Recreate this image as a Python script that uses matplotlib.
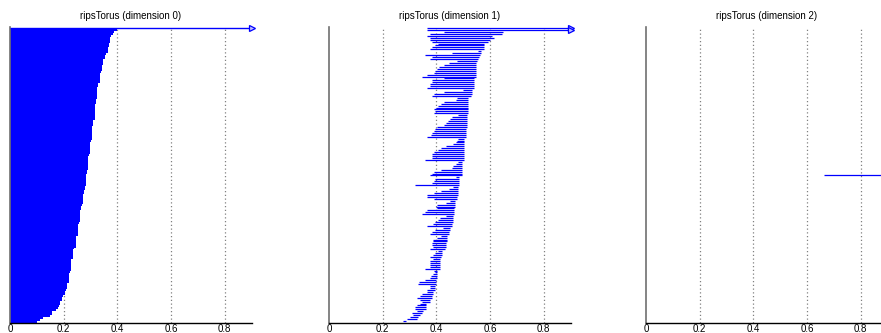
import numpy as np
import matplotlib
matplotlib.use("Agg")
import matplotlib.pyplot as plt

inf = np.inf

titles = ["ripsTorus (dimension 0)", "ripsTorus (dimension 1)", "ripsTorus (dimension 2)"]
xticks = [0, 0.2, 0.4, 0.6, 0.8]
xtick_labels = ["0", "0.2", "0.4", "0.6", "0.8"]

# dimension 0: all births at 0, deaths listed top to bottom
dim0_death = [
    inf,
    0.400,
    0.386, 0.384,
    0.376, 0.374, 0.372, 0.371,
    0.368, 0.367, 0.366, 0.365, 0.364,
    0.357, 0.355, 0.354,
    0.347, 0.346, 0.345, 0.344, 0.343, 0.342,
    0.338, 0.337, 0.336, 0.335, 0.335, 0.334,
    0.327, 0.326, 0.325, 0.325, 0.324, 0.324, 0.323, 0.323, 0.322,
    0.319, 0.319, 0.318, 0.318, 0.317, 0.317, 0.316, 0.316, 0.315, 0.315,
    0.309, 0.309, 0.308, 0.307, 0.307, 0.306, 0.306, 0.305, 0.305, 0.304,
    0.300, 0.299, 0.299, 0.298, 0.298, 0.297, 0.297, 0.296,
    0.292, 0.291, 0.291, 0.290, 0.290, 0.289, 0.289, 0.288,
    0.285, 0.284, 0.284, 0.283, 0.283, 0.282, 0.282, 0.281, 0.281,
    0.275, 0.274, 0.273, 0.272, 0.272, 0.271, 0.271, 0.270,
    0.263, 0.263, 0.262, 0.261, 0.261, 0.260, 0.260, 0.259,
    0.256, 0.255, 0.255, 0.254, 0.254, 0.253, 0.253,
    0.247, 0.246, 0.245, 0.245, 0.244, 0.244,
    0.237, 0.236, 0.235, 0.235, 0.234, 0.234,
    0.229, 0.228, 0.227, 0.227, 0.226, 0.226,
    0.222, 0.221, 0.220, 0.220, 0.219, 0.219,
    0.213, 0.212, 0.211, 0.210,
    0.206, 0.204,
    0.197, 0.195, 0.194,
    0.187, 0.185,
    0.181, 0.179,
    0.170,
    0.158, 0.156,
    0.149,
    0.124,
    0.112,
    0.100,
]
dim0_birth = [0.0] * len(dim0_death)

# dimension 1: intervals listed top to bottom
dim1_birth = [
    0.365, 0.365, 0.428, 0.376, 0.365, 0.376, 0.376, 0.385, 0.407, 0.395,
    0.383, 0.376, 0.556, 0.457, 0.357, 0.383, 0.376, 0.475, 0.447, 0.428,
    0.411, 0.401, 0.395, 0.391, 0.365, 0.345, 0.428, 0.383, 0.383, 0.376,
    0.376, 0.365, 0.500, 0.428, 0.392, 0.383, 0.475, 0.473, 0.428, 0.417,
    0.407, 0.397, 0.392, 0.395, 0.392, 0.479, 0.457, 0.451, 0.445, 0.435,
    0.428, 0.401, 0.395, 0.392, 0.383, 0.380, 0.365, 0.482, 0.475, 0.473,
    0.463, 0.435, 0.417, 0.407, 0.392, 0.383, 0.383, 0.383, 0.357, 0.479,
    0.473, 0.463, 0.457, 0.417, 0.392, 0.383, 0.376, 0.473, 0.395, 0.392,
    0.383, 0.320, 0.463, 0.447, 0.417, 0.392, 0.365, 0.365, 0.392, 0.451,
    0.435, 0.401, 0.397, 0.401, 0.364, 0.358, 0.345, 0.436, 0.413, 0.407,
    0.395, 0.389, 0.364, 0.426, 0.395, 0.382, 0.376, 0.417, 0.401, 0.389,
    0.386, 0.384, 0.384, 0.386, 0.376, 0.407, 0.395, 0.389, 0.376, 0.389,
    0.376, 0.376, 0.376, 0.376, 0.358, 0.391, 0.395, 0.389, 0.379, 0.376,
    0.358, 0.337, 0.330, 0.376, 0.376, 0.364, 0.364, 0.345, 0.339, 0.326,
    0.339, 0.345, 0.339, 0.326, 0.320, 0.320, 0.326, 0.308, 0.314, 0.302,
    0.289, 0.277,
]
dim1_death = [
    inf, inf, 0.647, 0.645, 0.606, 0.613, 0.600, 0.593, 0.577, 0.577,
    0.576, 0.576, 0.566, 0.566, 0.562, 0.559, 0.556, 0.550, 0.548, 0.548,
    0.548, 0.547, 0.547, 0.547, 0.546, 0.546, 0.541, 0.541, 0.541, 0.540,
    0.540, 0.540, 0.534, 0.531, 0.531, 0.529, 0.519, 0.519, 0.519, 0.519,
    0.519, 0.519, 0.519, 0.518, 0.518, 0.513, 0.513, 0.513, 0.513, 0.513,
    0.513, 0.513, 0.512, 0.512, 0.512, 0.512, 0.512, 0.503, 0.503, 0.503,
    0.503, 0.503, 0.503, 0.503, 0.503, 0.502, 0.502, 0.502, 0.502, 0.494,
    0.494, 0.494, 0.494, 0.494, 0.494, 0.494, 0.494, 0.484, 0.484, 0.484,
    0.484, 0.484, 0.479, 0.479, 0.479, 0.479, 0.479, 0.478, 0.478, 0.469,
    0.469, 0.469, 0.468, 0.466, 0.466, 0.466, 0.466, 0.460, 0.460, 0.460,
    0.460, 0.459, 0.459, 0.451, 0.451, 0.448, 0.448, 0.438, 0.438, 0.438,
    0.438, 0.437, 0.437, 0.435, 0.432, 0.419, 0.419, 0.419, 0.416, 0.413,
    0.413, 0.413, 0.413, 0.412, 0.412, 0.403, 0.401, 0.401, 0.401, 0.401,
    0.400, 0.400, 0.400, 0.395, 0.395, 0.395, 0.389, 0.389, 0.384, 0.384,
    0.376, 0.376, 0.361, 0.361, 0.361, 0.360, 0.351, 0.345, 0.339, 0.333,
    0.326, 0.287,
]

# dimension 2
dim2_birth = [0.663]
dim2_death = [inf]

XMAX = 0.9
W, H = 881, 333
fig = plt.figure(figsize=(W / 100, H / 100), dpi=100)
plt.rcParams['font.family'] = ['Liberation Sans', 'DejaVu Sans']

ax_top, ax_bot = 27, 323
lefts = [10, 329, 646]
axw = XMAX * 268.5

BLUE = (0, 0, 1)


def make_ax(left):
    ax = fig.add_axes([left / W, 1 - ax_bot / H, axw / W, (ax_bot - ax_top) / H])
    ax.set_xlim(0, XMAX)
    ax.set_xticks(xticks)
    ax.set_xticklabels(xtick_labels, fontsize=7)
    ax.tick_params(axis='x', length=0, pad=0.8, colors='black')
    ax.set_yticks([])
    for s in ['top', 'right']:
        ax.spines[s].set_visible(False)
    ax.spines['bottom'].set_color('black')
    ax.spines['bottom'].set_linewidth(1.0)
    ax.spines['left'].set_color('#707070')
    ax.spines['left'].set_linewidth(1.2)
    for xt in xticks[1:]:
        ax.axvline(xt, color='#808080', linestyle=(0, (1, 2)), linewidth=0.9, zorder=0)
    return ax


def arrow(ax, y):
    ax.plot([XMAX], [y], marker='>', ms=5, mfc=(0.75, 0.75, 1), mec=BLUE,
            mew=0.9, clip_on=False, zorder=5)


# panel 0
ax0 = make_ax(lefts[0])
n0 = len(dim0_death)
ys0 = np.arange(n0)[::-1]
ax0.set_ylim(-0.5, n0 - 0.5)
for y, b, d in zip(ys0, dim0_birth, dim0_death):
    if np.isinf(d):
        ax0.hlines(y + 0.2, b, XMAX, color=BLUE, linewidth=1.0, zorder=3)
        arrow(ax0, y + 0.2)
finite = [(y, b, d) for y, b, d in zip(ys0, dim0_birth, dim0_death) if not np.isinf(d)]
ax0.barh([f[0] for f in finite], [f[2] - f[1] for f in finite],
         left=[f[1] for f in finite], height=1.0, color=BLUE, linewidth=0, zorder=2)
ax0.set_title(titles[0], fontsize=7, pad=6)

# panel 1
ax1 = make_ax(lefts[1])
n1 = len(dim1_death)
ys1 = np.arange(n1)[::-1]
step = (321 - 28) / (n1 - 1)
ax1.set_ylim(-(ax_bot - 321) / step, n1 - 1 + (28 - ax_top) / step)
for y, b, d in zip(ys1, dim1_birth, dim1_death):
    if np.isinf(d):
        ax1.hlines(y, b, XMAX, color=BLUE, linewidth=0.9, zorder=3)
        arrow(ax1, y)
    else:
        ax1.hlines(y, b, d, color=BLUE, linewidth=0.9, zorder=3)
ax1.set_title(titles[1], fontsize=7, pad=6)

# panel 2
ax2 = make_ax(lefts[2])
ax2.set_ylim(0, 2)
for y, b, d in zip([1.0], dim2_birth, dim2_death):
    ax2.hlines(y, b, XMAX if np.isinf(d) else d, color=BLUE, linewidth=0.9, zorder=3)
    if np.isinf(d):
        arrow(ax2, y)
ax2.set_title(titles[2], fontsize=7, pad=6)

fig.savefig("out.png", dpi=100)
